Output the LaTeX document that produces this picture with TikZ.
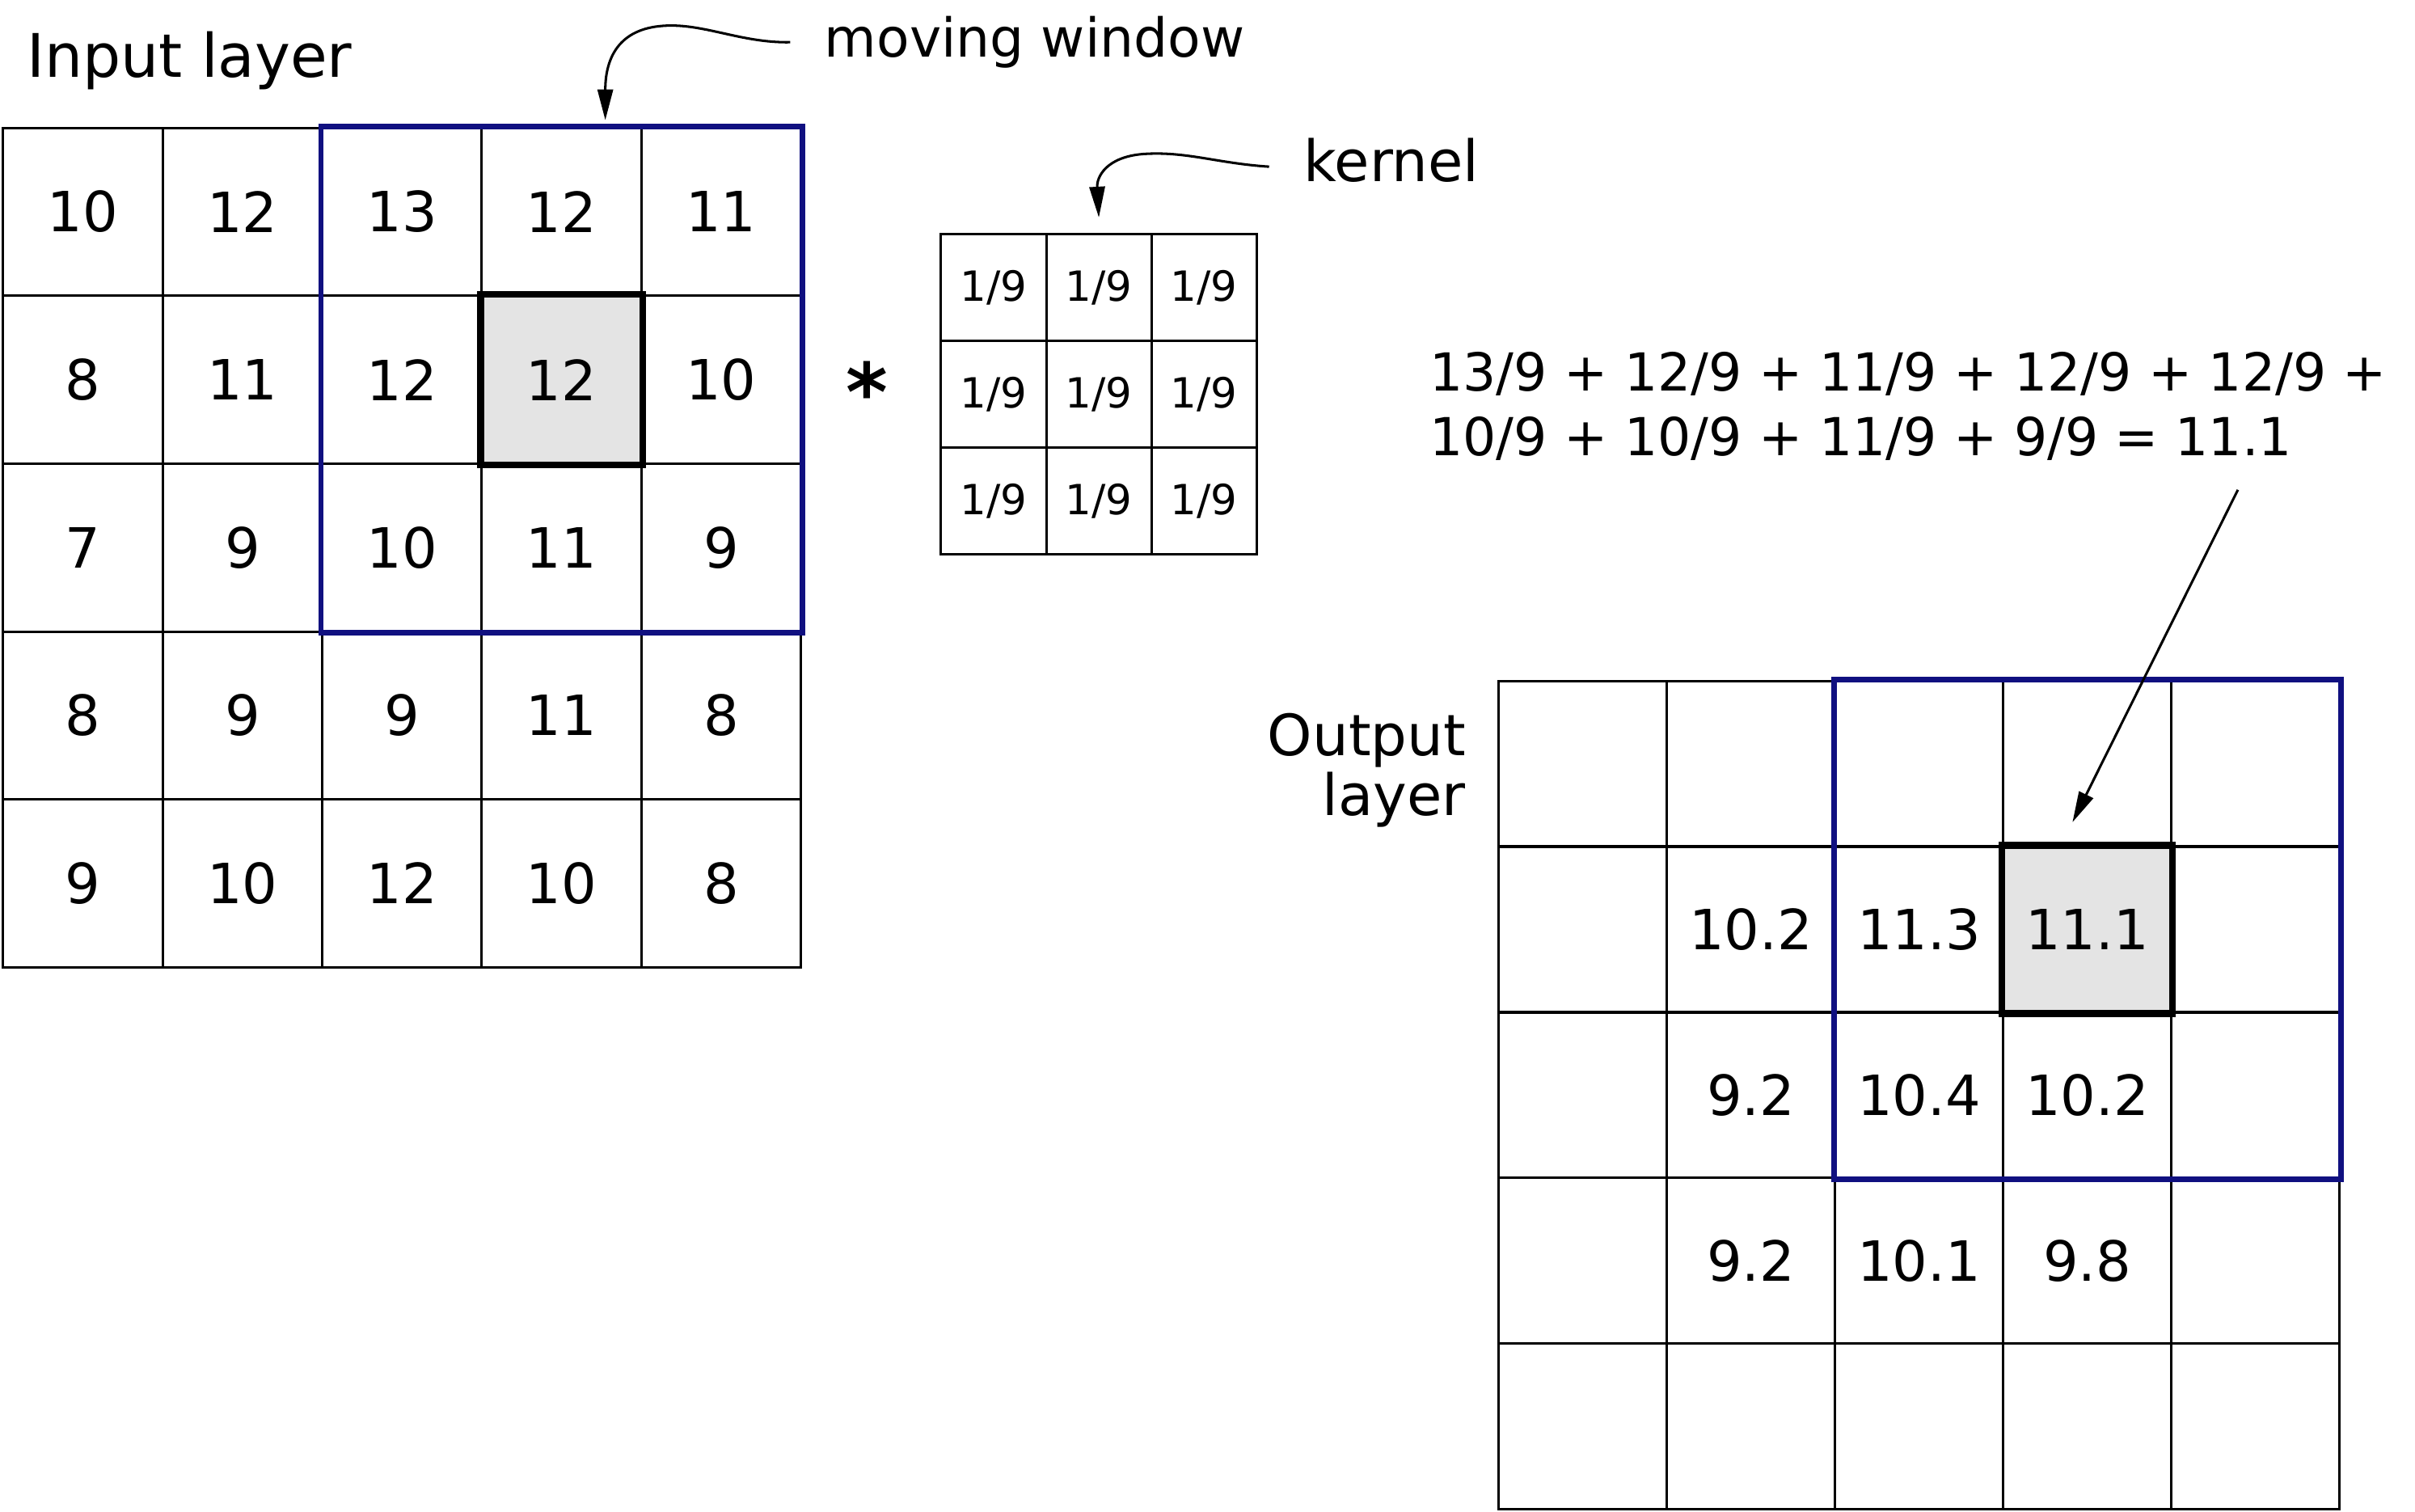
\documentclass[tikz,border=0pt]{standalone}
\usepackage{fontspec}
\setmainfont{DejaVu Sans}
\usetikzlibrary{arrows.meta,backgrounds}
\definecolor{windowblue}{RGB}{16,16,128}
\definecolor{cellgray}{RGB}{228,228,228}

\begin{document}
\begin{tikzpicture}[x=0.5pt,y=-0.5pt,
        incell/.style={draw,line width=0.8pt,minimum width=51.8pt,minimum height=54.5pt,inner sep=0pt,font=\fontsize{18}{22}\selectfont},
        kcell/.style={draw,line width=0.8pt,minimum width=34.15pt,minimum height=34.65pt,inner sep=0pt,font=\fontsize{13.5}{16}\selectfont},
        outcell/.style={draw,line width=0.8pt,minimum width=54.6pt,minimum height=53.8pt,inner sep=0pt,font=\fontsize{18}{22}\selectfont},
        window/.style={draw=windowblue,line width=1.8pt},
        hilite/.style={draw=black,line width=2.2pt},
        pointer/.style={line width=0.8pt,-{Triangle[length=10pt,width=5pt]}},
        label/.style={inner sep=0pt}]
    \useasboundingbox (0,0) rectangle (1568,981.6);
    \foreach \row [count=\r] in {{10,12,13,12,11},{8,11,12,12,10},{7,9,10,11,9},{8,9,9,11,8},{9,10,12,10,8}} {
        \foreach \v [count=\c] in \row
            \node[incell] (in-\r-\c) at ({2+103.6*(\c-0.5)},{83+109*(\r-0.5)}) {\v};
    }
    \foreach \r in {1,2,3} {
        \foreach \c in {1,2,3}
            \node[kcell] (k-\r-\c) at ({611+68.3*(\c-0.5)},{152+69.3*(\r-0.5)}) {1/9};
    }
    \foreach \row [count=\r] in {{{},{},{},{},{}},{{},10.2,11.3,11.1,{}},{{},9.2,10.4,10.2,{}},{{},9.2,10.1,9.8,{}},{{},{},{},{},{}}} {
        \foreach \v [count=\c] in \row
            \node[outcell] (out-\r-\c) at ({973+109.2*(\c-0.5)},{442+107.6*(\r-0.5)}) {\v};
    }
    \begin{scope}[on background layer]
        \fill[cellgray] (in-2-4.north west) rectangle (in-2-4.south east);
        \fill[cellgray] (out-2-4.north west) rectangle (out-2-4.south east);
    \end{scope}
    \draw[window] (in-1-3.north west) rectangle (in-3-5.south east);
    \draw[window] (out-1-3.north west) rectangle (out-3-5.south east);
    \draw[hilite] (in-2-4.north west) rectangle (in-2-4.south east);
    \draw[hilite] (out-2-4.north west) rectangle (out-2-4.south east);
    \node[label,anchor=base west,font=\fontsize{19.5}{24}\selectfont] (inlabel) at (17,50) {Input layer};
    \node[label,anchor=base west,font=\fontsize{17.4}{21}\selectfont] (mwlabel) at (535,37) {moving window};
    \node[label,anchor=base west,font=\fontsize{18.5}{22}\selectfont] (klabel) at (846,118) {kernel};
    \node[label,anchor=base,font=\fontsize{26}{30}\selectfont\bfseries] (conv) at (563,273) {*};
    \node[label,anchor=north west,align=left,font=\fontsize{17}{21}\selectfont] (sum) at (928,228)
        {13/9 + 12/9 + 11/9 + 12/9 + 12/9 +\\10/9 + 10/9 + 11/9 + 9/9 = 11.1};
    \node[label,anchor=east,align=right,font=\fontsize{18.5}{19.5}\selectfont] (outlabel) at (952,500) {Output\\layer};
    \coordinate (mwtip) at (393,78);
    \coordinate (ktip) at ([yshift=5pt]k-1-2.north);
    \coordinate (sumtail) at (1453,318);
    \draw[pointer] ([xshift=-11pt]mwlabel.west) .. controls (480,28) and (455,14) .. (428,17)
        .. controls (400,20) and (393,40) .. (mwtip);
    \draw[pointer] ([xshift=-11pt,yshift=-2pt]klabel.west) .. controls (790,106) and (770,98) .. (742,100)
        .. controls (718,102) and (712,115) .. (ktip);
    \draw[pointer] (sumtail) -- ([shift={(-4.8pt,7.5pt)}]out-2-4.north);
\end{tikzpicture}
\end{document}
